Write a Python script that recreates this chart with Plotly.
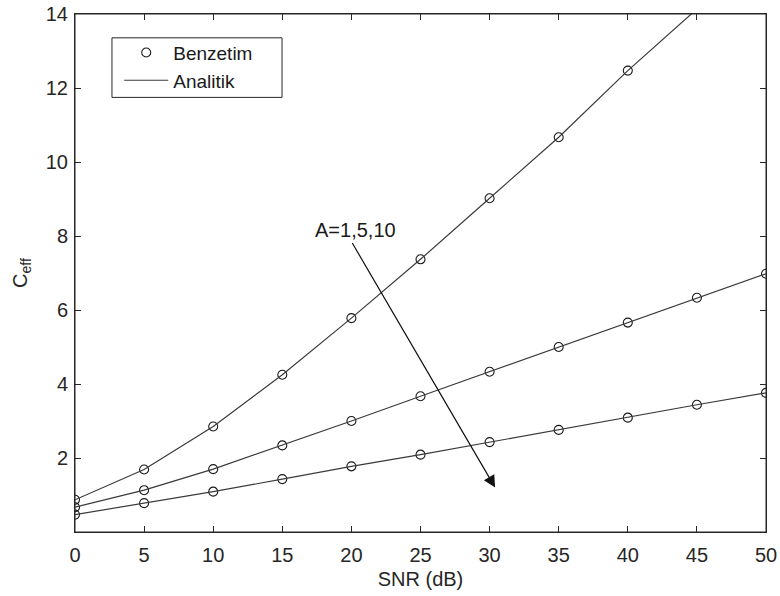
import plotly.graph_objects as go

snr = [0, 5, 10, 15, 20, 25, 30, 35, 40, 45, 50]
ceff_a1 = [0.47, 0.78, 1.09, 1.43, 1.775, 2.09, 2.43, 2.76, 3.09, 3.44, 3.76]
ceff_a5 = [0.67, 1.13, 1.70, 2.34, 3.00, 3.67, 4.33, 5.00, 5.66, 6.33, 6.98]
ceff_a10 = [0.87, 1.69, 2.85, 4.25, 5.78, 7.37, 9.02, 10.67, 12.47, 14.15, 15.8]
series = [ceff_a1, ceff_a5, ceff_a10]

x_ticks = [0, 5, 10, 15, 20, 25, 30, 35, 40, 45, 50]
y_ticks = [2, 4, 6, 8, 10, 12, 14]

FONT = "Liberation Sans, Arial, sans-serif"
AX = "#262626"

fig = go.Figure()
for i, s in enumerate(series):
    fig.add_trace(go.Scatter(
        x=snr, y=s, mode="markers", name="Benzetim",
        showlegend=(i == 0), legendrank=1,
        marker=dict(symbol="circle-open", size=9, color="#1a1a1a",
                    line=dict(width=1.1, color="#1a1a1a")),
        cliponaxis=True,
    ))
for i, s in enumerate(series):
    fig.add_trace(go.Scatter(
        x=snr, y=s, mode="lines", name="Analitik",
        showlegend=(i == 0), legendrank=2,
        line=dict(color="#3a3a3a", width=1.2),
    ))

fig.add_annotation(x=30.4, y=1.2, ax=20.0, ay=7.85, xref="x", yref="y",
                   axref="x", ayref="y", showarrow=True, arrowhead=2,
                   arrowsize=2.0, arrowwidth=1.2, arrowcolor="#111111", text="")
fig.add_annotation(x=20.3, y=8.16, xref="x", yref="y", text="A=1,5,10",
                   showarrow=False, font=dict(size=20, color="#1a1a1a", family=FONT))

# plot frame and legend frame
fig.add_shape(type="rect", xref="paper", yref="paper", x0=0, x1=1, y0=0, y1=1,
              line=dict(color=AX, width=1), fillcolor="rgba(0,0,0,0)", layer="above")
fig.add_shape(type="rect", xref="paper", yref="paper",
              x0=0.0535, x1=0.2996, y0=0.839, y1=0.954,
              line=dict(color=AX, width=1), fillcolor="white", layer="above")

axis_common = dict(showline=True, linecolor=AX, linewidth=1, mirror="ticks",
                   ticks="inside", ticklen=6, tickcolor=AX, tickwidth=1,
                   showgrid=False, zeroline=False, automargin=False,
                   ticklabeloverflow="allow",
                   tickfont=dict(size=20, color=AX, family=FONT))

fig.update_layout(
    width=780, height=596,
    margin=dict(l=75, r=14, t=14, b=64),
    paper_bgcolor="white", plot_bgcolor="white",
    font=dict(family=FONT, size=20, color=AX),
    xaxis=dict(range=[0, 50], tickvals=x_ticks, ticklabelstandoff=5,
               title=dict(text="SNR (dB)", font=dict(size=20, color=AX), standoff=6),
               **axis_common),
    yaxis=dict(range=[0, 14], tickvals=y_ticks, ticklabelstandoff=2,
               title=dict(text="C<sub>eff</sub>", font=dict(size=20, color=AX), standoff=12),
               **axis_common),
    legend=dict(x=0.064, y=0.962, xanchor="left", yanchor="top",
                bgcolor="rgba(0,0,0,0)", borderwidth=0,
                font=dict(size=19, color="#1a1a1a", family=FONT),
                itemwidth=44, tracegroupgap=0),
)

fig.write_html("out.html", config={"displayModeBar": False},
               post_script="document.body.style.margin='0';document.body.style.overflow='hidden';")
